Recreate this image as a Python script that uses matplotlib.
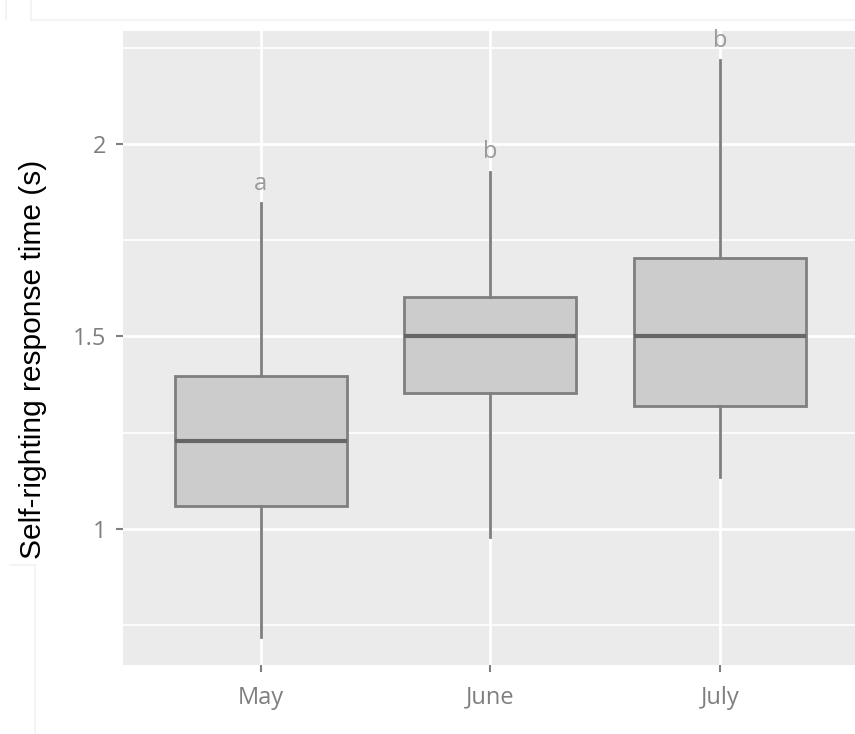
import matplotlib
matplotlib.use("Agg")
import matplotlib.pyplot as plt
from matplotlib.lines import Line2D
from matplotlib.ticker import FixedLocator

months = ["May", "June", "July"]
whisker_low = [0.72, 0.98, 1.135]
q1 = [1.06, 1.353, 1.32]
median = [1.229, 1.50, 1.50]
q3 = [1.397, 1.603, 1.704]
whisker_high = [1.847, 1.927, 2.218]
groups = ["a", "b", "b"]
group_y = [1.895, 1.98, 2.268]

PANEL = "#EBEBEB"
EDGE = "#7F7F7F"
TICK_GREY = "#7F7F7F"

fig = plt.figure(figsize=(8.55, 7.34), dpi=100)
ax = fig.add_axes([123 / 855, 69 / 734, 734.7 / 855, 634 / 734])
ax.set_facecolor(PANEL)
for s in ax.spines.values():
    s.set_visible(False)

stats = [
    dict(label=m, whislo=lo, q1=a, med=md, q3=b, whishi=hi, fliers=[])
    for m, lo, a, md, b, hi in zip(months, whisker_low, q1, median, q3, whisker_high)
]
pos = list(range(1, len(months) + 1))
ax.bxp(
    stats, positions=pos, widths=0.75, patch_artist=True, showcaps=False,
    boxprops=dict(facecolor="#CCCCCC", edgecolor=EDGE, linewidth=2),
    medianprops=dict(color="#666666", linewidth=3),
    whiskerprops=dict(color=EDGE, linewidth=2),
    zorder=3,
)

for x, g, y in zip(pos, groups, group_y):
    ax.text(x, y, g, ha="center", va="center", fontsize=17, color="#9A9A9A",
            family="Open Sans", zorder=4)

ax.set_xlim(0.4, 3.6)
ax.set_ylim(0.647, 2.293)
ax.set_xticks(pos)
ax.set_xticklabels(months)
ax.set_yticks([1, 1.5, 2])
ax.set_yticklabels(["1", "1.5", "2"])
ax.yaxis.set_minor_locator(FixedLocator([0.75, 1.25, 1.75, 2.25]))

ax.grid(True, which="major", color="white", linewidth=2, zorder=0)
ax.grid(True, which="minor", axis="y", color="white", linewidth=1.2, zorder=0)
ax.set_axisbelow(True)
ax.tick_params(which="major", length=5, width=1.5, color=TICK_GREY,
               labelcolor=TICK_GREY, labelsize=17, pad=7)
ax.tick_params(axis="x", pad=10)
ax.tick_params(which="minor", length=0)
for lab in ax.get_xticklabels() + ax.get_yticklabels():
    lab.set_family("Open Sans")

ax.set_ylabel("Self-righting response time (s)", fontsize=21.5, color="black",
              family="Liberation Sans")
ax.yaxis.set_label_coords(-0.103, 0.482)

# faint frame lines around the header strip and the lower-left corner
for xs, ys in [((31 / 855, 1.0), (1 - 20 / 734, 1 - 20 / 734)),
               ((31 / 855, 31 / 855), (1 - 20 / 734, 1.0)),
               ((6 / 855, 6 / 855), (1 - 20 / 734, 1.0)),
               ((35 / 855, 35 / 855), (0.0, 1 - 565 / 734)),
               ((10 / 855, 35 / 855), (1 - 565 / 734, 1 - 565 / 734))]:
    fig.add_artist(Line2D(xs, ys, color="#F2F2F2", linewidth=1.2))

fig.savefig("out.png", dpi=100, facecolor="white")
